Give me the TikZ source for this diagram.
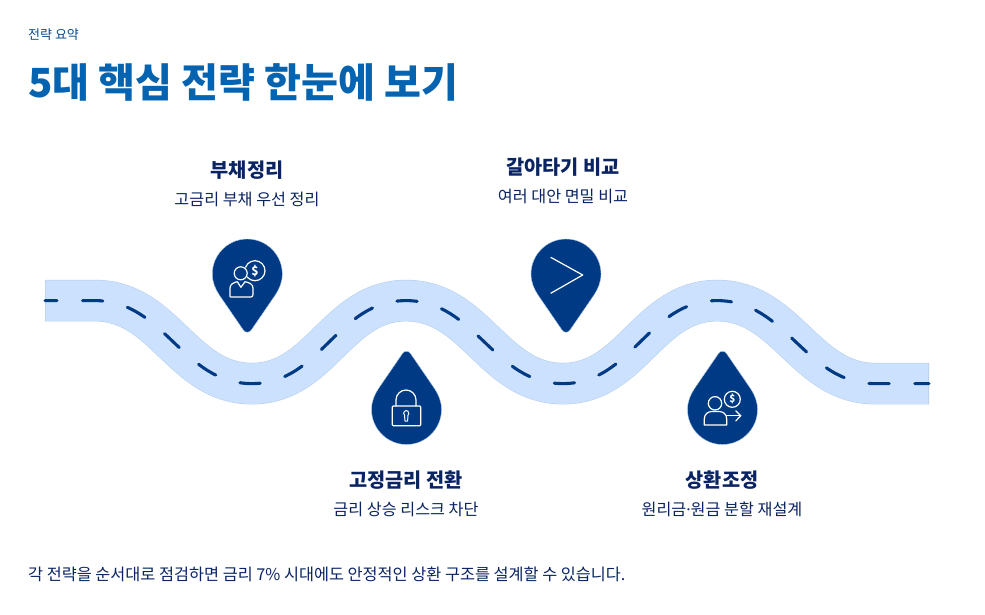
\documentclass[tikz,border=0pt]{standalone}
\usepackage{fontspec}
\setmainfont{Noto Sans CJK KR}
\newfontfamily\dotfont{Noto Sans}
\definecolor{pinblue}{HTML}{003A85}
\definecolor{titleblue}{HTML}{0563B0}
\definecolor{navy}{HTML}{0A2463}
\definecolor{roadfill}{HTML}{CCE1FD}
\definecolor{roadedge}{HTML}{B4CDEA}
\newcommand{\pinshape}{(-35,0) .. controls (-35,-19.3) and (-19.3,-35) .. (0,-35) .. controls (19.3,-35) and (35,-19.3) .. (35,0) .. controls (35,8) and (32,15) .. (28,21) -- (4,56) .. controls (2,59) and (-2,59) .. (-4,56) -- (-28,21) .. controls (-32,15) and (-35,8) .. (-35,0) -- cycle}
\newcommand{\roadline}{(45,300.6) -- (95,300.6) .. controls (165,300.6) and (182,383.6) .. (252,383.6) .. controls (321,383.6) and (337,300.6) .. (406,300.6) .. controls (476,300.6) and (493,383.6) .. (563,383.6) .. controls (632,383.6) and (648,300.6) .. (717,300.6) .. controls (787,300.6) and (805,383.6) .. (875,383.6) -- (929,383.6)}
\tikzset{
  pinbody/.style={fill=pinblue,draw=roadedge,line width=0.4pt},
  icon/.style={draw=white,line width=1.2pt,line join=round,line cap=round},
  headtext/.style={text=navy,font=\fontsize{19.7}{22}\selectfont\bfseries,anchor=center,inner sep=0pt},
  subtext/.style={text=navy,font=\fontsize{16.2}{18}\selectfont,anchor=center,inner sep=0pt},
  coinmark/.style={text=white,font=\fontsize{12}{12}\selectfont\bfseries,inner sep=0pt}
}
\begin{document}
\begin{tikzpicture}[x=1pt,y=-1pt]
\useasboundingbox (0,0) rectangle (985,614);
\fill[white] (0,0) rectangle (985,614);
% road
\draw[roadedge,line width=41.6pt] \roadline;
\draw[roadfill,line width=40.6pt,shorten >=0.6pt,shorten <=0.6pt] \roadline;
\draw[pinblue,line width=3.1pt,line cap=round,dash pattern=on 20.3pt off 25.5pt,dash phase=8.3pt] \roadline;
% pins
\begin{scope}[shift={(247.3,274)}]\draw[pinbody] \pinshape;\end{scope}
\begin{scope}[shift={(566,274)}]\draw[pinbody] \pinshape;\end{scope}
\begin{scope}[shift={(406.5,409.5)},yscale=-1]\draw[pinbody] \pinshape;\end{scope}
\begin{scope}[shift={(722.5,409.5)},yscale=-1]\draw[pinbody] \pinshape;\end{scope}
% icon 1
\draw[icon] (255,270.7) circle (10);
\fill[pinblue] (240.7,273.3) circle (7.5);
\draw[icon] (240.7,273.3) circle (6.5);
\draw[icon,fill=pinblue] (230,296.5) -- (230,288) .. controls (230,284) and (234,282.5) .. (237.3,281.7) -- (240.9,287.3) -- (245,281.7) .. controls (249,282.5) and (253,284) .. (253,288) -- (253,294.5) .. controls (253,296) and (252,297) .. (251,297) -- (232,297) .. controls (231,297) and (230,297) .. (230,296.5) -- cycle;
\node[coinmark] (coinone) at (255,270.7) {\$};
% icon 2
\draw[icon,rounded corners=1pt] (392.3,406) rectangle (420.7,425.7);
\draw[icon] (396,406) -- (396,400) arc[start angle=180,end angle=360,radius=10] -- (416,406);
\draw[icon,line width=1pt] (404.6,415.2) arc[start angle=130,end angle=410,radius=2.6] -- (407.6,421) -- (404.9,421) -- cycle;
% icon 3
\draw[icon,line cap=butt] (550.7,257.3) -- (582.7,275) -- (550.7,293.3);
% icon 4
\draw[icon] (715,403.3) circle (6.7);
\draw[icon] (704.3,425) -- (704.3,419) .. controls (704.3,414) and (708,411.5) .. (712,411.5) -- (719,411.5) .. controls (723,411.5) and (726.7,414) .. (726.7,419) -- (726.7,425) -- cycle;
\draw[icon] (732.3,399.3) circle (8);
\node[coinmark,font=\fontsize{10}{10}\selectfont\bfseries] (cointwo) at (732.3,399.3) {\$};
\draw[icon] (726.7,415.7) -- (740.7,415.7);
\draw[icon] (735.7,410.7) -- (740.7,415.7) -- (735.7,421);
% text
\node[text=titleblue!60!navy,font=\fontsize{13}{14}\selectfont,anchor=west,inner sep=0pt] (kicker) at (28,34.5) {전략 요약};
\node[text=titleblue,font=\fontsize{40.1}{44}\selectfont\bfseries,anchor=west,inner sep=0pt] (title) at (28,82) {5대 핵심 전략 한눈에 보기};
\node[headtext] (h1) at (247,170.5) {부채정리};
\node[subtext] (s1) at (247,199.8) {고금리 부채 우선 정리};
\node[headtext] (h2) at (563,167) {갈아타기 비교};
\node[subtext] (s2) at (563,196.8) {여러 대안 면밀 비교};
\node[headtext] (h3) at (406,480) {고정금리 전환};
\node[subtext] (s3) at (406,509) {금리 상승 리스크 차단};
\node[headtext] (h4) at (722,480) {상환조정};
\node[subtext] (s4) at (722,509) {원리금{\dotfont ·}원금 분할 재설계};
\node[subtext,anchor=west,font=\fontsize{16.3}{18}\selectfont] (foot) at (28,574) {각 전략을 순서대로 점검하면 금리 7\% 시대에도 안정적인 상환 구조를 설계할 수 있습니다.};
\end{tikzpicture}
\end{document}
